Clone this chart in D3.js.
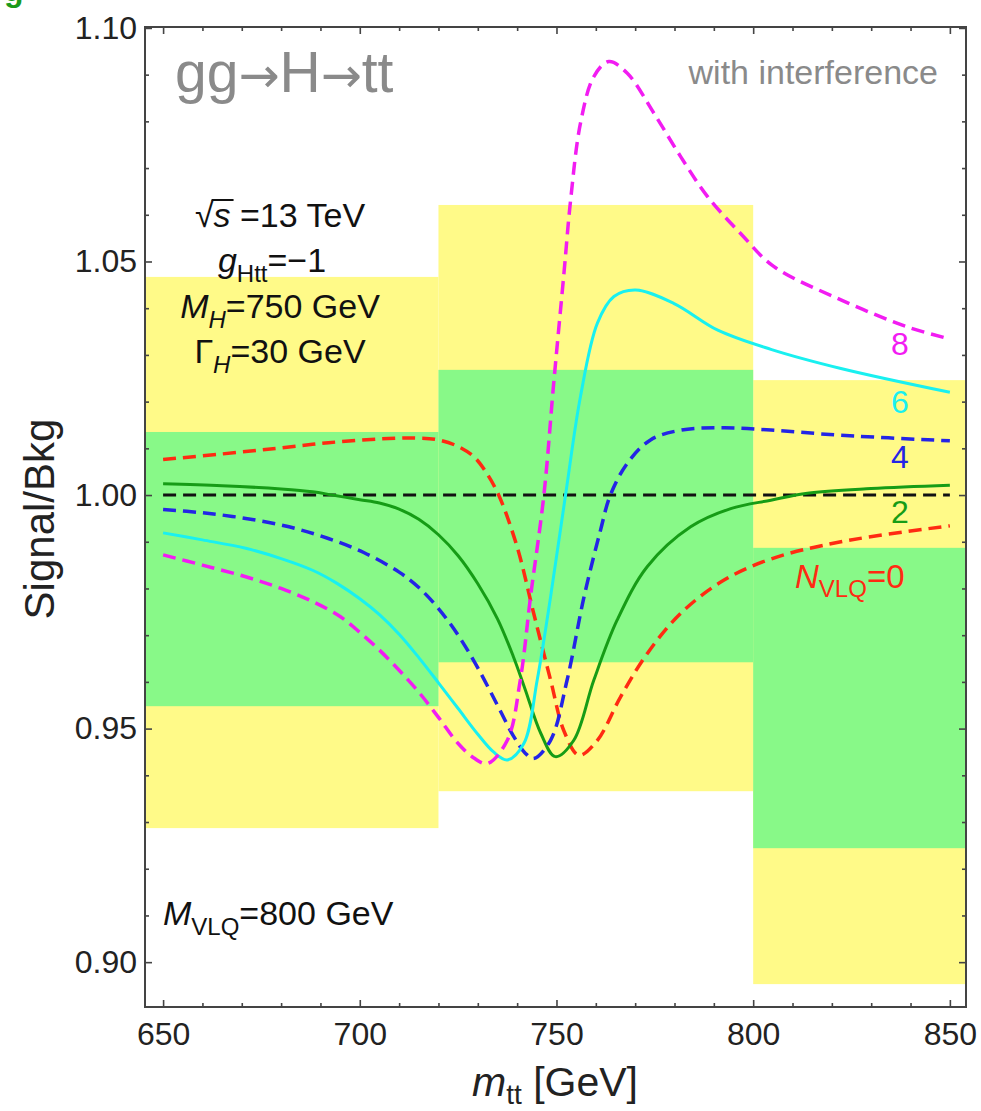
<!DOCTYPE html>
<meta charset="utf-8">
<style>
body { margin: 0; background: #fff; }
svg { font-family: "Liberation Sans", Arial, sans-serif; }
.axis .domain { display: none; }
.axis line { stroke: #444; stroke-width: 1.6; }
.axis text { font-size: 32px; fill: #222; }
</style>
<body>
<svg id="chart" width="981" height="1111"></svg>
<script src="https://d3js.org/d3.v7.min.js"></script>
<script>

// uncertainty bands, one value per m_tt bin
var binEdges = [640, 720, 800, 860];
var yellowHi = [1.0467, 1.0621, 1.0246];
var yellowLo = [0.9287, 0.9366, 0.8953];
var greenHi  = [1.0135, 1.0268, 0.9887];
var greenLo  = [0.9548, 0.9642, 0.9244];

// Signal/Bkg curves: [m_tt, ratio]
var nvlq0 = [[650,1.0076],[665,1.0088],[679,1.0100],[692,1.0112],[705,1.0120],[714,1.0122],
  [720,1.0118],[725,1.0104],[729,1.0082],[732,1.0050],[735.3,1.0000],[740,0.9889],[744.2,0.9747],
  [748.5,0.9604],[751.9,0.9495],[755.7,0.9443],[760.4,0.9475],[766.3,0.9568],[773.1,0.9661],
  [781.6,0.9747],[792.6,0.9818],[804.5,0.9863],[822.3,0.9900],[850,0.9934]];
var nvlq2 = [[650,1.0024],[665,1.0020],[680,1.0013],[688,1.0007],[693,1.0000],[700,0.9990],
  [705,0.9983],[710,0.9970],[715,0.9948],[720,0.9915],[725,0.9870],[730,0.9810],[735,0.9735],
  [739,0.9655],[742,0.9585],[746,0.9490],[749.7,0.9440],[754.4,0.9475],[759.5,0.9604],[765.4,0.9732],
  [773.1,0.9847],[784.1,0.9932],[794.3,0.9971],[804.5,0.9989],[813.8,1.0004],[830,1.0014],[850,1.0021]];
var nvlq4 = [[650,0.9969],[660,0.9962],[671,0.9950],[682,0.9932],[692,0.9907],[701,0.9877],
  [710,0.9835],[715,0.9802],[720,0.9757],[725,0.9700],[730,0.9630],[735,0.9550],[739,0.9485],
  [742,0.9448],[744.2,0.9436],[748.5,0.9475],[752.7,0.9604],[757,0.9782],[761.2,0.9925],
  [763.7,1.0000],[768,1.0068],[773.9,1.0118],[781.6,1.0139],[792.6,1.0144],[804.5,1.0139],
  [822.3,1.0128],[850,1.0116]];
var nvlq6 = [[650,0.9919],[660,0.9904],[671,0.9886],[680,0.9864],[688,0.9839],[694,0.9812],
  [700,0.9778],[705,0.9744],[710,0.9702],[715,0.9652],[720,0.9598],[725,0.9543],[730,0.9488],
  [734,0.9450],[737.5,0.9433],[741.7,0.9468],[745.1,0.9604],[748.5,0.9782],[752.3,1.0000],
  [756.1,1.0211],[760.4,1.0368],[764.6,1.0425],[770.1,1.0439],[779.9,1.0410],[791,1.0353],
  [804.5,1.0312],[822.3,1.0271],[850,1.0220]];
var nvlq8 = [[650,0.9872],[660,0.9850],[671,0.9825],[680,0.9800],[688,0.9772],[695,0.9740],
  [700,0.9706],[705,0.9668],[710,0.9625],[715,0.9578],[720,0.9524],[725,0.9468],[729,0.9437],
  [732.4,0.9425],[737.5,0.9475],[740.8,0.9604],[743.4,0.9782],[746.8,1.0000],[749.3,1.0240],[751.9,1.0475],
  [753.6,1.0632],[756.1,1.0796],[759.5,1.0896],[763.3,1.0928],[768,1.0903],[774.8,1.0817],
  [781.6,1.0724],[788.4,1.0639],[796.8,1.0560],[805.3,1.0489],[822.3,1.0418],[839.2,1.0360],[850,1.0334]];

var xMajor = [650, 700, 750, 800, 850];
var yMajor = [0.90, 0.95, 1.00, 1.05, 1.10];
var curveLabels = ["8", "6", "4", "2"];
var curveLabelY = [1.0300, 1.0176, 1.0058, 0.9940];

var curves = [
  {data: nvlq0, color: "#ff2a12", dash: "13,7", width: 3.5},
  {data: nvlq2, color: "#169c16", dash: null, width: 3},
  {data: nvlq4, color: "#2424e6", dash: "13,7", width: 3.5},
  {data: nvlq6, color: "#19f0f0", dash: null, width: 3},
  {data: nvlq8, color: "#f21cf2", dash: "13,7", width: 3.5}
];
var labelColors = ["#f21cf2", "#19f0f0", "#2424e6", "#169c16"];

var plotL = 145, plotR = 966, plotT = 27, plotB = 1007;

var svg = d3.select("#chart");

var x = d3.scaleLinear().domain([645.4, 854.1]).range([plotL, plotR]);
var y = d3.scaleLinear().domain([0.8904, 1.1002]).range([plotB, plotT]);

svg.append("clipPath").attr("id", "plotclip")
  .append("rect")
    .attr("x", plotL).attr("y", plotT)
    .attr("width", plotR - plotL).attr("height", plotB - plotT);

var plot = svg.append("g").attr("clip-path", "url(#plotclip)");

// bands: yellow underneath, green on top
var bins = d3.range(binEdges.length - 1);
plot.selectAll(".yellow").data(bins).enter().append("rect")
    .attr("class", "yellow")
    .attr("x", i => x(binEdges[i]))
    .attr("width", i => x(binEdges[i + 1]) - x(binEdges[i]))
    .attr("y", i => y(yellowHi[i]))
    .attr("height", i => y(yellowLo[i]) - y(yellowHi[i]))
    .attr("fill", "#fffa88");
plot.selectAll(".green").data(bins).enter().append("rect")
    .attr("class", "green")
    .attr("x", i => x(binEdges[i]))
    .attr("width", i => x(binEdges[i + 1]) - x(binEdges[i]))
    .attr("y", i => y(greenHi[i]))
    .attr("height", i => y(greenLo[i]) - y(greenHi[i]))
    .attr("fill", "#88f988");

// reference line at 1
plot.append("line")
    .attr("x1", x(650)).attr("x2", x(850))
    .attr("y1", y(1)).attr("y2", y(1))
    .attr("stroke", "#111").attr("stroke-width", 3)
    .attr("stroke-dasharray", "13,7");

var line = d3.line()
    .x(d => x(d[0]))
    .y(d => y(d[1]))
    .curve(d3.curveCatmullRom.alpha(0.5));

plot.selectAll(".curve").data(curves).enter().append("path")
    .attr("class", "curve")
    .attr("d", d => line(d.data))
    .attr("fill", "none")
    .attr("stroke", d => d.color)
    .attr("stroke-width", d => d.width)
    .attr("stroke-dasharray", d => d.dash);

// axes, ticks pointing inwards on all four sides
function minorTicks(lo, hi, step, majors) {
  var out = [];
  for (var v = lo; v <= hi + 1e-9; v += step) {
    var r = Math.round(v * 1000) / 1000;
    if (!majors.some(m => Math.abs(m - r) < 1e-6)) out.push(r);
  }
  return out;
}
var xMinor = minorTicks(650, 850, 10, xMajor);
var yMinor = minorTicks(0.90, 1.10, 0.01, yMajor);

svg.append("g").attr("class", "axis").attr("transform", "translate(0," + plotB + ")")
  .call(d3.axisBottom(x).tickValues(xMajor).tickSize(-7).tickPadding(15).tickFormat(d3.format("d")));
svg.append("g").attr("class", "axis").attr("transform", "translate(0," + plotB + ")")
  .call(d3.axisBottom(x).tickValues(xMinor).tickSize(-4).tickFormat(""));
svg.append("g").attr("class", "axis").attr("transform", "translate(0," + plotT + ")")
  .call(d3.axisTop(x).tickValues(xMajor).tickSize(-7).tickFormat(""));
svg.append("g").attr("class", "axis").attr("transform", "translate(0," + plotT + ")")
  .call(d3.axisTop(x).tickValues(xMinor).tickSize(-4).tickFormat(""));

svg.append("g").attr("class", "axis").attr("transform", "translate(" + plotL + ",0)")
  .call(d3.axisLeft(y).tickValues(yMajor).tickSize(-7).tickPadding(8).tickFormat(d3.format(".2f")));
svg.append("g").attr("class", "axis").attr("transform", "translate(" + plotL + ",0)")
  .call(d3.axisLeft(y).tickValues(yMinor).tickSize(-4).tickFormat(""));
svg.append("g").attr("class", "axis").attr("transform", "translate(" + plotR + ",0)")
  .call(d3.axisRight(y).tickValues(yMajor).tickSize(-7).tickFormat(""));
svg.append("g").attr("class", "axis").attr("transform", "translate(" + plotR + ",0)")
  .call(d3.axisRight(y).tickValues(yMinor).tickSize(-4).tickFormat(""));

svg.append("rect")
    .attr("x", plotL).attr("y", plotT)
    .attr("width", plotR - plotL).attr("height", plotB - plotT)
    .attr("fill", "none").attr("stroke", "#444").attr("stroke-width", 2);

// axis titles
var xt = svg.append("text")
    .attr("x", 555).attr("y", 1096)
    .attr("text-anchor", "middle")
    .style("font-size", "41px").attr("fill", "#222");
xt.append("tspan").style("font-style", "italic").text("m");
xt.append("tspan").style("font-size", "28px").attr("dy", 8).text("tt");
xt.append("tspan").attr("dy", -8).text(" [GeV]");

svg.append("text")
    .attr("transform", "translate(54,519) rotate(-90)")
    .attr("text-anchor", "middle")
    .style("font-size", "42px").attr("fill", "#222")
    .text("Signal/Bkg");

// annotations
var title = svg.append("text")
    .attr("x", 175).attr("y", 92)
    .style("font-size", "57px").attr("fill", "#8a8a8a");
title.append("tspan").text("gg");
title.append("tspan").style("font-family", "DejaVu Sans").style("font-size", "49px").text("\u2192");
title.append("tspan").text("H");
title.append("tspan").style("font-family", "DejaVu Sans").style("font-size", "49px").text("\u2192");
title.append("tspan").text("tt");

svg.append("text")
    .attr("x", 938).attr("y", 84)
    .attr("text-anchor", "end")
    .style("font-size", "34px").attr("fill", "#8a8a8a")
    .text("with interference");

// partially visible panel letter at the very top
svg.append("text")
    .attr("x", 4).attr("y", 1)
    .style("font-size", "32px").style("font-weight", "bold").attr("fill", "#1a9a1a")
    .text("g");

function richText(xPos, yPos, anchor, size, color, parts) {
  var t = svg.append("text")
      .attr("x", xPos).attr("y", yPos)
      .attr("text-anchor", anchor)
      .style("font-size", size + "px").attr("fill", color);
  var shift = 0;
  parts.forEach(function(p) {
    var s = t.append("tspan").text(p.t);
    if (p.i) s.style("font-style", "italic");
    var want = p.sub ? Math.round(size * 0.28) : 0;
    if (p.sub) s.style("font-size", Math.round(size * 0.72) + "px");
    if (want !== shift) { s.attr("dy", want - shift); shift = want; }
  });
  return t;
}

var sq = richText(280, 227, "middle", 34, "#111", [
  {t: "\u221A"}, {t: "s", i: true}, {t: " =13 TeV"}]);
var sn = sq.node();
var ox0 = sn.getEndPositionOfChar(0).x, ox1 = sn.getEndPositionOfChar(1).x + 3;
svg.append("line")
    .attr("x1", ox0 - 2).attr("x2", ox1)
    .attr("y1", 227 - 27).attr("y2", 227 - 27)
    .attr("stroke", "#111").attr("stroke-width", 2);

richText(272, 272, "middle", 34, "#111", [{t: "g", i: true}, {t: "Htt", sub: true}, {t: "=\u22121"}]);
richText(280, 318, "middle", 34, "#111", [{t: "M", i: true}, {t: "H", i: true, sub: true}, {t: "=750 GeV"}]);
richText(280, 363, "middle", 34, "#111", [{t: "\u0393"}, {t: "H", i: true, sub: true}, {t: "=30 GeV"}]);
richText(163, 925, "start", 34, "#111", [{t: "M", i: true}, {t: "VLQ", sub: true}, {t: "=800 GeV"}]);
richText(795, 588, "start", 33, "#ff2a12", [{t: "N", i: true}, {t: "VLQ", sub: true}, {t: "=0"}]);

svg.selectAll(".clabel").data(curveLabels).enter().append("text")
    .attr("class", "clabel")
    .attr("x", x(837.3))
    .attr("y", (d, i) => y(curveLabelY[i]))
    .attr("text-anchor", "middle")
    .style("font-size", "32px")
    .attr("fill", (d, i) => labelColors[i])
    .text(d => d);

</script>
